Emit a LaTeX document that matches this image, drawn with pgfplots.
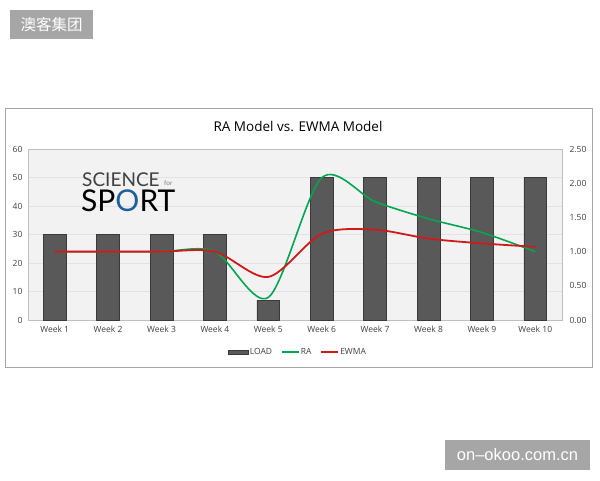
\documentclass[border=0pt]{standalone}
\usepackage{pgfplots}
\pgfplotsset{compat=1.18}
\usepackage{fontspec}
\setmainfont{Open Sans}
\newfontfamily\cjk{Noto Sans CJK SC}
\newfontfamily\logofont{Lato}
\newfontfamily\wmfont{Liberation Sans}
\definecolor{barfill}{HTML}{595959}
\definecolor{baredge}{HTML}{3A3A3A}
\definecolor{plotbg}{HTML}{F2F2F2}
\definecolor{gridc}{HTML}{E2E2E2}
\definecolor{axisc}{HTML}{BFBFBF}
\definecolor{boxc}{HTML}{A6A6A6}
\definecolor{wm}{HTML}{A6A6A6}
\definecolor{ragreen}{HTML}{00A651}
\definecolor{ewmared}{HTML}{D01A1A}
\definecolor{ticktext}{HTML}{404040}
\definecolor{logoblue}{HTML}{1F5F9A}
\begin{document}
\begin{tikzpicture}
\path[fill=white] (0pt,0pt) rectangle (600pt,480pt);
% watermarks
\fill[wm] (10pt,441pt) rectangle (93pt,470pt);
\node[text=white,font=\cjk\fontsize{15.5}{16}\selectfont] at (51.5pt,455.5pt) {澳客集团};
\fill[wm] (445pt,10pt) rectangle (590pt,40pt);
\node[text=white,font=\wmfont\fontsize{16.5}{18}\selectfont] at (517.5pt,25pt) {on–okoo.com.cn};
% chart frame
\draw[boxc, line width=0.8pt, fill=white] (5pt,113pt) rectangle (592pt,372pt);
\node[font=\fontsize{13.5}{15}\selectfont, text=black] at (298pt,354pt) {RA Model vs. EWMA Model};

\begin{axis}[
  at={(28pt,160pt)}, anchor=south west,
  scale only axis, width=534pt, height=171pt,
  xmin=0.5, xmax=10.5, ymin=0, ymax=60,
  xtick={1,...,10},
  xticklabels={Week 1,Week 2,Week 3,Week 4,Week 5,Week 6,Week 7,Week 8,Week 9,Week 10},
  ytick={0,10,...,60},
  axis background/.style={fill=plotbg},
  axis line style={axisc},
  major tick length=0pt,
  ymajorgrids, grid style={gridc, line width=0.8pt},
  tick label style={font=\fontsize{8.5}{10}\selectfont, text=ticktext},
  xticklabel style={yshift=-3pt},
  yticklabel style={xshift=-2pt},
  /pgf/number format/assume math mode=true,
]
\addplot[ybar, bar width=0.43, fill=barfill, draw=baredge, line width=0.6pt]
  coordinates {(1,30) (2,30) (3,30) (4,30) (5,7) (6,50) (7,50) (8,50) (9,50) (10,50)};
\end{axis}

% logo
\node[anchor=base west, inner sep=0pt, font=\logofont\fontsize{19}{19}\selectfont, text=ticktext] at (82pt,293pt) {SCIENCE};
\node[anchor=base west, inner sep=0pt, font=\logofont\fontsize{6.5}{7}\selectfont, text=gray] at (164pt,294pt) {for};
\node[anchor=base west, inner sep=0pt, font=\logofont\fontsize{30}{30}\selectfont, text=black] at (81pt,268pt) {SP\textcolor{logoblue}{O}RT};

\begin{axis}[
  at={(28pt,160pt)}, anchor=south west,
  scale only axis, width=534pt, height=171pt,
  xmin=0.5, xmax=10.5, ymin=0, ymax=2.5,
  hide x axis,
  axis y line*=right,
  axis line style={axisc},
  ytick={0,0.5,...,2.5},
  major tick length=0pt,
  tick label style={font=\fontsize{8.5}{10}\selectfont, text=ticktext},
  yticklabel style={xshift=4pt, /pgf/number format/.cd, fixed, fixed zerofill, precision=2},
  /pgf/number format/assume math mode=true,
  legend style={at={(0.505,-0.187)}, anchor=center, draw=none, fill=none,
    font=\fontsize{8.5}{10}\selectfont, text=ticktext, legend columns=3,
    nodes={inner xsep=1pt},
    /tikz/every even column/.append style={column sep=8pt}},
  legend cell align=left,
]
\addlegendimage{legend image code/.code={\draw[fill=barfill, draw=baredge] (0pt,-2pt) rectangle (20pt,2pt);}}
\addlegendentry{LOAD}
\addplot[smooth, ragreen, line width=1.6pt]
  coordinates {(1,1.00) (2,1.00) (3,1.00) (4,1.00) (5,0.33) (6,2.08) (7,1.73) (8,1.48) (9,1.28) (10,1.00)};
\addlegendentry{RA}
\addplot[smooth, ewmared, line width=1.8pt]
  coordinates {(1,1.00) (2,1.00) (3,1.00) (4,1.00) (5,0.63) (6,1.26) (7,1.32) (8,1.19) (9,1.12) (10,1.07)};
\addlegendentry{EWMA}
\end{axis}
\end{tikzpicture}
\end{document}
